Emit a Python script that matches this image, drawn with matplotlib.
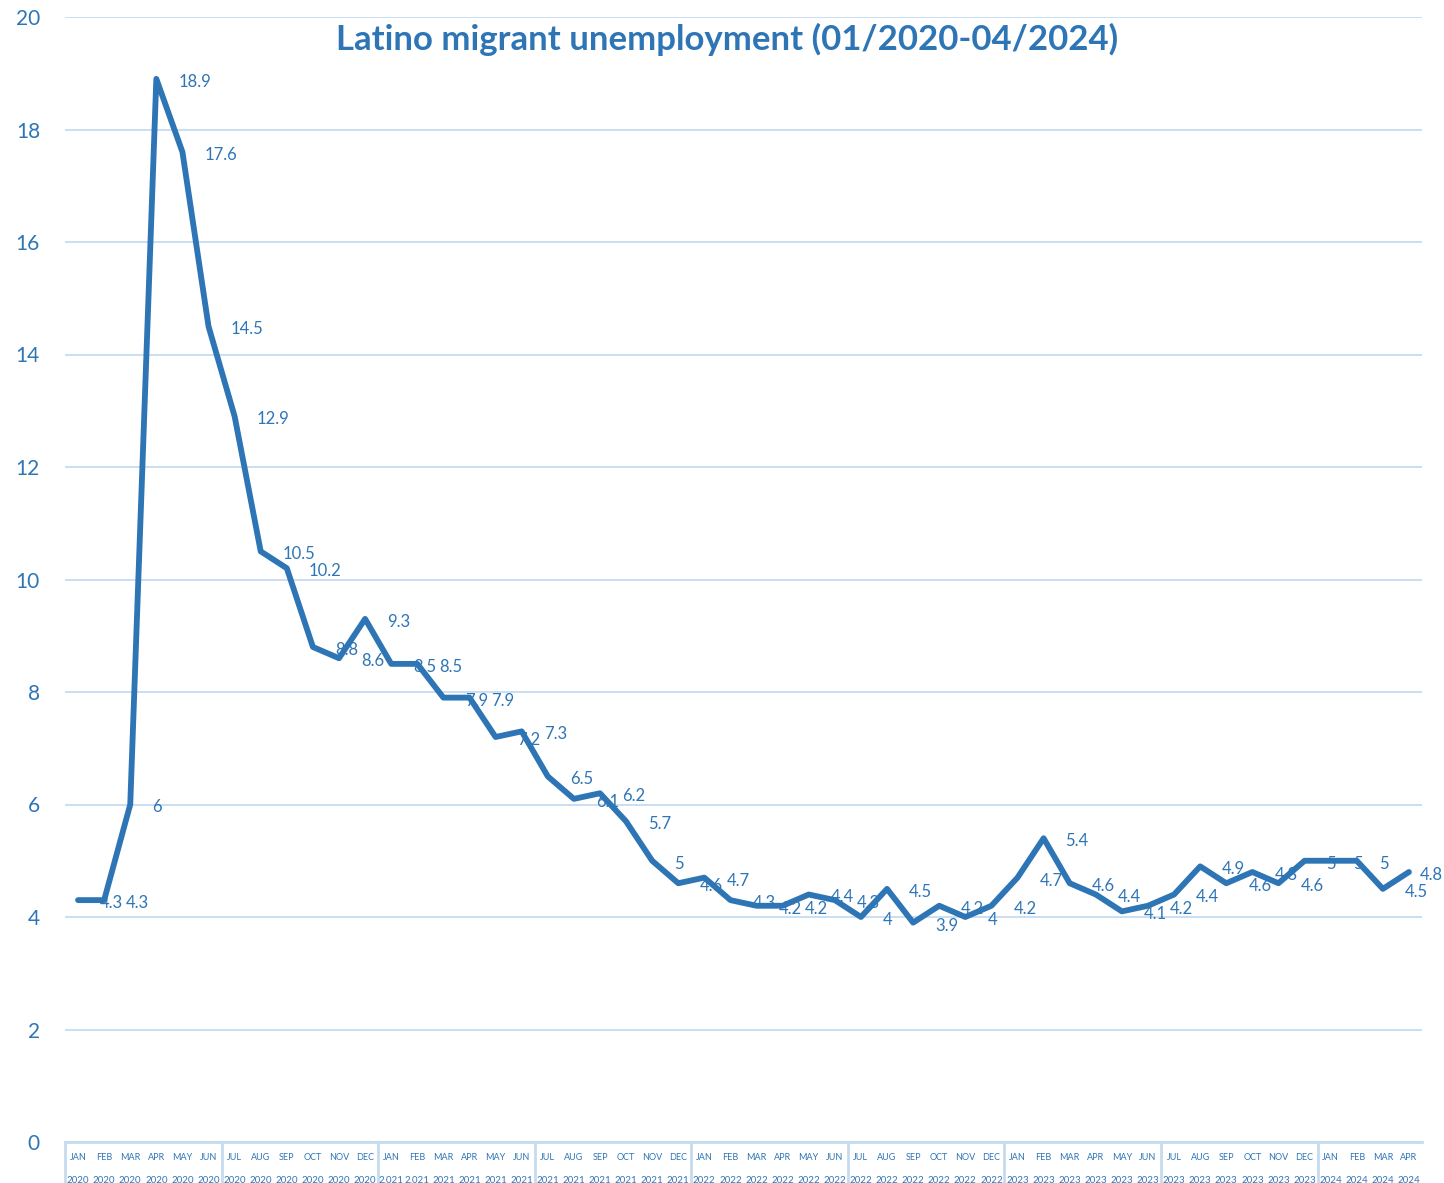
import matplotlib.pyplot as plt
import numpy as np

months = ["JAN", "FEB", "MAR", "APR", "MAY", "JUN",
          "JUL", "AUG", "SEP", "OCT", "NOV", "DEC"]
month_labels = months * 4 + months[:4]
year_labels = (["2020"] * 12 + ["2.021", "2.021"] + ["2021"] * 10
               + ["2022"] * 12 + ["2023"] * 12 + ["2024"] * 4)
rate = [4.3, 4.3, 6, 18.9, 17.6, 14.5, 12.9, 10.5, 10.2, 8.8, 8.6, 9.3,
        8.5, 8.5, 7.9, 7.9, 7.2, 7.3, 6.5, 6.1, 6.2, 5.7, 5, 4.6,
        4.7, 4.3, 4.2, 4.2, 4.4, 4.3, 4, 4.5, 3.9, 4.2, 4, 4.2,
        4.7, 5.4, 4.6, 4.4, 4.1, 4.2, 4.4, 4.9, 4.6, 4.8, 4.6, 5,
        5, 5, 4.5, 4.8]

blue = "#2E75B6"
grid_col = "#C5DCF0"
plt.rcParams['font.family'] = ['Lato', 'DejaVu Sans']

W, H = 1444, 1183
fig = plt.figure(figsize=(W / 100, H / 100), dpi=100)
ax = fig.add_axes([65 / W, (H - 1142) / H, (1422 - 65) / W, (1142 - 17) / H])

x = np.arange(len(rate))
ax.plot(x, rate, color=blue, lw=4.2, solid_joinstyle='round',
        solid_capstyle='round', zorder=3)

for xi, v in zip(x, rate):
    dx = 11 if xi == len(rate) - 1 else 22  # last one sits tight to the edge
    ax.annotate(f"{v:g}", (xi, v), xytext=(dx, -3), textcoords='offset pixels',
                ha='left', va='center', color=blue, fontsize=12, zorder=4)

ax.set_xlim(-0.5, len(rate) - 0.5)
ax.set_ylim(0, 20)
ax.set_yticks(range(0, 21, 2))
ax.yaxis.grid(True, color=grid_col, lw=1.3)
ax.set_axisbelow(True)
ax.tick_params(axis='y', length=0, pad=18, labelcolor=blue, labelsize=15)
ax.set_xticks([])
for s in ['left', 'right', 'top']:
    ax.spines[s].set_visible(False)
ax.spines['bottom'].set_color(grid_col)
ax.spines['bottom'].set_linewidth(2)

# category axis: month / year, separators every half year
tr = ax.get_xaxis_transform()
for i, (m, yr) in enumerate(zip(month_labels, year_labels)):
    ax.text(i, -0.0135, m, transform=tr, ha='center', va='center',
            fontsize=6.5, color=blue, clip_on=False)
    ax.text(i, -0.0345, yr, transform=tr, ha='center', va='center',
            fontsize=7, color=blue, clip_on=False)
for b in range(0, len(rate), 6):
    ax.plot([b - 0.5, b - 0.5], [0, -0.05], transform=tr, color=grid_col,
            lw=2, clip_on=False)

fig.text(727 / W, 1 - 39 / H, "Latino migrant unemployment (01/2020-04/2024)",
         ha='center', va='center', fontsize=25, fontweight='bold', color=blue)

fig.savefig("out.png", dpi=100)
